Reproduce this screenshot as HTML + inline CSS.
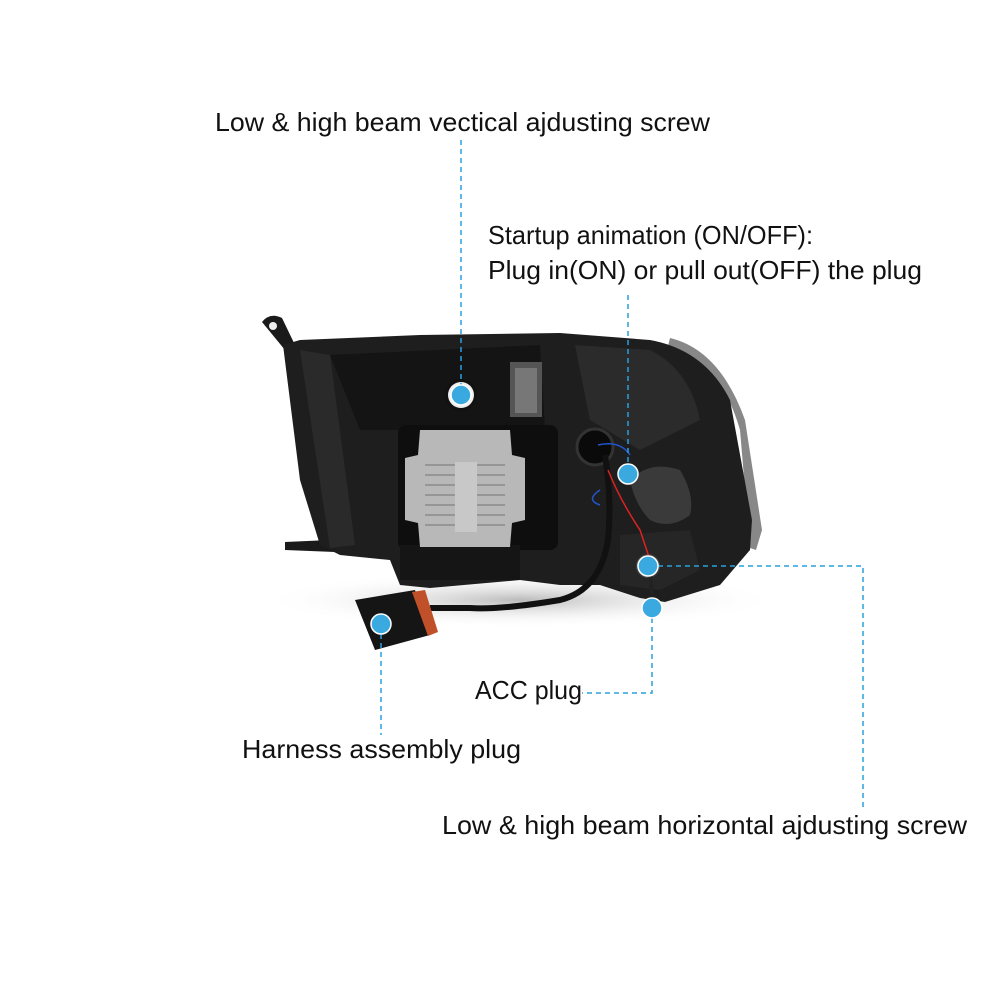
<!DOCTYPE html>
<html><head><meta charset="utf-8"><style>
html,body{margin:0;padding:0;background:#fff;width:1000px;height:1000px;overflow:hidden}
svg{position:absolute;left:0;top:0}
text{font-family:"Liberation Sans",sans-serif;font-size:26px;fill:#111}
</style></head><body>
<svg width="1000" height="1000" viewBox="0 0 1000 1000">
<defs>
<radialGradient id="sh" cx="0.5" cy="0.5" r="0.5"><stop offset="0" stop-color="#bbb"/><stop offset="1" stop-color="#fff" stop-opacity="0"/></radialGradient>
</defs>
<ellipse cx="520" cy="600" rx="260" ry="28" fill="url(#sh)"/>
<path d="M262,322 Q270,312 282,318 L295,345 L285,350 Z" fill="#1a1a1a"/>
<circle cx="273" cy="326" r="4" fill="#eee"/>
<path d="M285,542 L330,540 L335,552 L285,550 Z" fill="#1a1a1a"/>
<path d="M670,338 Q720,350 745,420 L762,530 L756,550 L750,548 L740,430 Q720,360 668,346 Z" fill="#888"/>
<path d="M283,345 L300,340 L420,335 L560,333 L650,340 Q705,350 730,400 L752,520 L750,550 L720,585 L665,602 L640,598 L600,585 L560,585 L520,580 L430,588 L400,585 L390,560 L340,555 L320,545 L300,480 Z" fill="#1e1e1e"/>
<path d="M300,350 L330,355 L355,545 L330,548 Z" fill="#2a2a2a"/>
<path d="M330,355 L540,345 L545,430 L360,430 Z" fill="#141414"/>
<path d="M575,345 L650,350 Q690,370 700,420 L640,450 L590,420 Z" fill="#2b2b2b"/>
<path d="M630,480 Q650,460 680,470 Q695,495 690,515 Q670,530 650,520 Q635,505 630,480Z" fill="#3a3a3a"/>
<path d="M620,535 L690,530 L700,570 L660,590 L620,585 Z" fill="#262626"/>
<rect x="510" y="362" width="32" height="55" fill="#555"/>
<rect x="515" y="368" width="22" height="45" fill="#777"/>
<rect x="398" y="425" width="160" height="125" rx="8" fill="#0e0e0e"/>
<rect x="400" y="545" width="120" height="35" fill="#151515"/>
<path d="M420,430 L510,430 L512,455 L525,458 L525,520 L512,523 L510,547 L420,547 L418,523 L405,520 L405,458 L418,455 Z" fill="#b8b8b8"/>
<g stroke="#8a8a8a" stroke-width="1.5">
<line x1="425" y1="465" x2="505" y2="465"/><line x1="425" y1="475" x2="505" y2="475"/><line x1="425" y1="485" x2="505" y2="485"/><line x1="425" y1="495" x2="505" y2="495"/><line x1="425" y1="505" x2="505" y2="505"/><line x1="425" y1="515" x2="505" y2="515"/><line x1="425" y1="525" x2="505" y2="525"/>
</g>
<rect x="455" y="462" width="22" height="70" fill="#c8c8c8"/>
<circle cx="595" cy="447" r="18" fill="#0a0a0a" stroke="#333" stroke-width="3"/>
<circle cx="461" cy="395" r="16" fill="#111"/>
<circle cx="461" cy="395" r="13" fill="#eee"/>
<circle cx="648" cy="566" r="12" fill="#444"/>
<path d="M605,455 Q612,500 608,540 Q600,590 560,600 Q500,610 470,608 L430,608" stroke="#111" stroke-width="6" fill="none"/>
<path d="M608,470 Q620,500 640,530 L650,560" stroke="#d22" stroke-width="1.5" fill="none"/>
<path d="M598,445 Q620,440 630,455 M600,490 Q585,500 600,505" stroke="#2255cc" stroke-width="1.5" fill="none"/>
<path d="M650,568 L652,595" stroke="#222" stroke-width="4"/>
<path d="M355,600 L415,590 L430,635 L375,650 Z" fill="#151515"/>
<path d="M412,592 L425,590 L438,632 L428,636 Z" fill="#c0502a"/>
<g stroke="#2aa0dc" stroke-width="1.5" stroke-dasharray="5,4" fill="none">
<line x1="461" y1="140" x2="461" y2="385"/>
<line x1="628" y1="295" x2="628" y2="464"/>
<polyline points="658,566 863,566 863,810"/>
<polyline points="652,618 652,693 582,693"/>
<line x1="381" y1="634" x2="381" y2="735"/>
</g>
<g fill="#39a9df" stroke="#fff" stroke-width="1.5">
<circle cx="461" cy="395" r="10"/>
<circle cx="628" cy="474" r="10"/>
<circle cx="648" cy="566" r="10"/>
<circle cx="652" cy="608" r="10"/>
<circle cx="381" cy="624" r="10"/>
</g>
<text x="215" y="131" textLength="495" lengthAdjust="spacingAndGlyphs">Low &amp; high beam vectical ajdusting screw</text>
<text x="488" y="244" textLength="325" lengthAdjust="spacingAndGlyphs">Startup animation (ON/OFF):</text>
<text x="488" y="279" textLength="434" lengthAdjust="spacingAndGlyphs">Plug in(ON) or pull out(OFF) the plug</text>
<text x="475" y="699" textLength="107" lengthAdjust="spacingAndGlyphs">ACC plug</text>
<text x="242" y="758" textLength="279" lengthAdjust="spacingAndGlyphs">Harness assembly  plug</text>
<text x="442" y="834" textLength="525" lengthAdjust="spacingAndGlyphs">Low &amp; high beam horizontal ajdusting screw</text>
</svg>
</body></html>
